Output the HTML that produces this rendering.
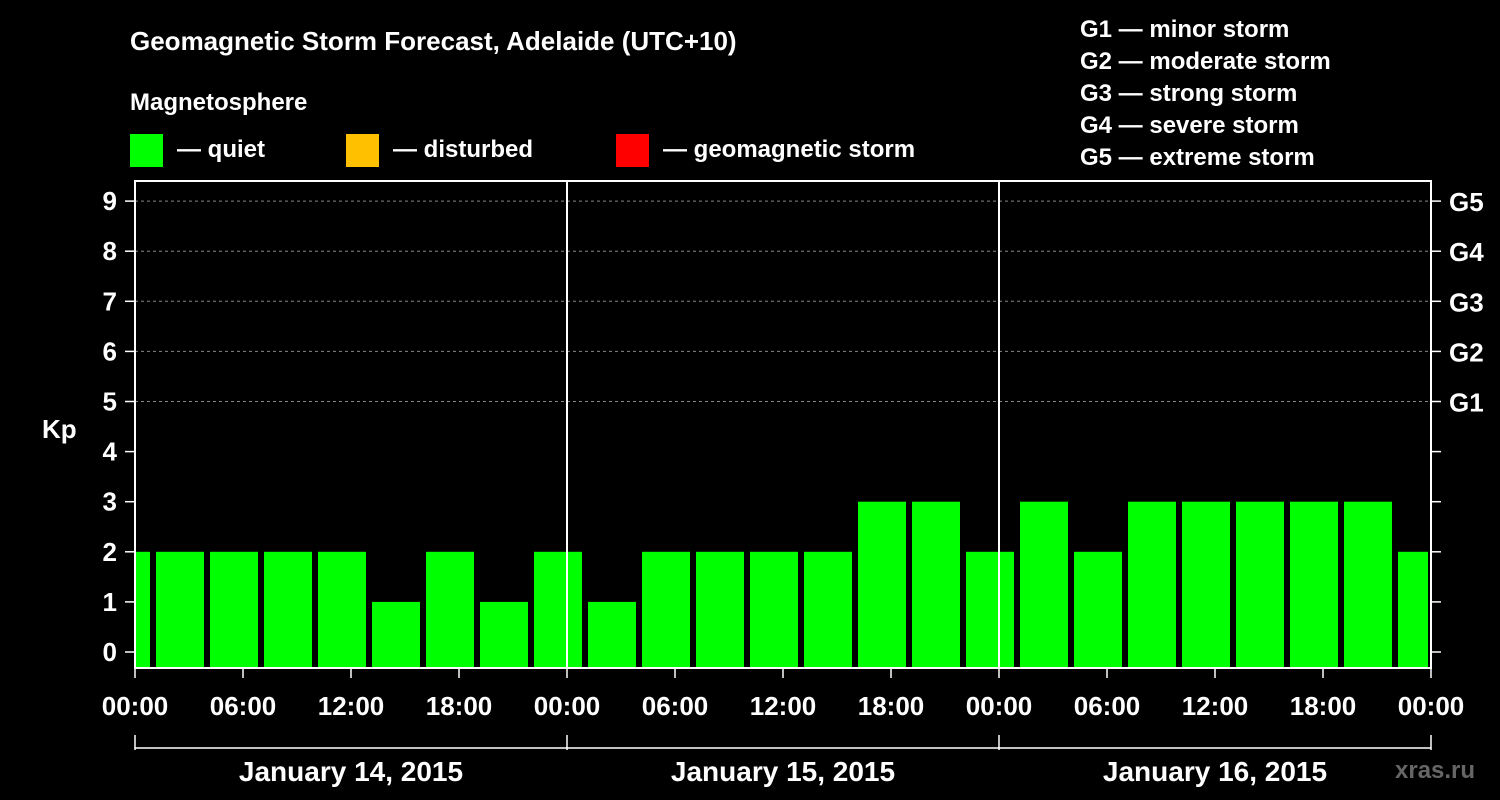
<!DOCTYPE html>
<html><head><meta charset="utf-8"><style>
body{margin:0;background:#000;width:1500px;height:800px;overflow:hidden}
svg{display:block;font-family:"Liberation Sans",Arial,sans-serif;font-weight:bold}
</style></head><body>
<svg id="c" width="1500" height="800">
<rect width="1500" height="800" fill="#000"/>
<text x="130" y="50" fill="#fff" font-size="26">Geomagnetic Storm Forecast, Adelaide (UTC+10)</text>
<text x="130" y="110" fill="#fff" font-size="24">Magnetosphere</text>
<g><rect x="130" y="134" width="33" height="33" fill="#00ff00"/><text x="177" y="157" fill="#fff" font-size="24">— quiet</text></g>
<g><rect x="346" y="134" width="33" height="33" fill="#ffc000"/><text x="393" y="157" fill="#fff" font-size="24">— disturbed</text></g>
<g><rect x="616" y="134" width="33" height="33" fill="#ff0000"/><text x="663" y="157" fill="#fff" font-size="24">— geomagnetic storm</text></g>
<g fill="#fff" font-size="24">
<text x="1080" y="37">G1 — minor storm</text><text x="1080" y="69">G2 — moderate storm</text><text x="1080" y="101">G3 — strong storm</text><text x="1080" y="133">G4 — severe storm</text><text x="1080" y="165">G5 — extreme storm</text></g>
<text x="42" y="438" fill="#fff" font-size="26">Kp</text>
<text x="1395" y="778" fill="#666" font-size="24">xras.ru</text>
<g id="plot"></g>
</svg>
<script>
const kpValues=[2,2,2,2,2,1,2,1,2,1,2,2,2,2,3,3,2,3,2,3,3,3,3,3,2];
const blockStartHours=[-2,1,4,7,10,13,16,19,22,25,28,31,34,37,40,43,46,49,52,55,58,61,64,67,70];
const yTicks=[0,1,2,3,4,5,6,7,8,9];
const gLabels=["G1","G2","G3","G4","G5"];
const gLevels=[5,6,7,8,9];
const xTickHours=[0,6,12,18,24,30,36,42,48,54,60,66,72];
const xTickLabels=["00:00","06:00","12:00","18:00","00:00","06:00","12:00","18:00","00:00","06:00","12:00","18:00","00:00"];
const dayLabels=["January 14, 2015","January 15, 2015","January 16, 2015"];
const L=135,R=1431,T=181,B=668;
const x=h=>L+h*18;
const y=v=>652-v*50.1;
const ns="http://www.w3.org/2000/svg";
const g=document.getElementById('plot');
function mk(t,a,txt){const e=document.createElementNS(ns,t);for(const k in a)e.setAttribute(k,a[k]);if(txt!==undefined)e.textContent=txt;g.appendChild(e);return e;}
gLevels.forEach(v=>{const e=mk('line',{x1:L,x2:R,y1:y(v),y2:y(v),stroke:'#888','stroke-dasharray':'3,3','stroke-width':1});

});
kpValues.forEach((v,i)=>{const s=Math.max(x(blockStartHours[i])+3,L+1),en=Math.min(x(blockStartHours[i]+3)-3,R-3);
const e=mk('rect',{x:s,y:y(v),width:en-s,height:B-y(v),fill:'#00ff00'});

});
mk('rect',{x:L,y:T,width:R-L,height:B-T,fill:'none',stroke:'#fff','stroke-width':2});
[24,48].forEach(h=>{mk('line',{x1:x(h),x2:x(h),y1:T,y2:B,stroke:'#fff','stroke-width':2});});
yTicks.forEach(v=>{mk('line',{x1:L-10,x2:L,y1:y(v),y2:y(v),stroke:'#fff','stroke-width':1.5});
mk('line',{x1:R,x2:R+10,y1:y(v),y2:y(v),stroke:'#fff','stroke-width':1.5});
const t=mk('text',{x:L-18,y:y(v)+9,fill:'#fff','font-size':26,'text-anchor':'end'},String(v));

});
gLevels.forEach((v,i)=>{const t=mk('text',{x:1449,y:y(v)+10,fill:'#fff','font-size':26},gLabels[i]);

});
xTickHours.forEach((h,i)=>{mk('line',{x1:x(h),x2:x(h),y1:B,y2:B+10,stroke:'#fff','stroke-width':1.5});
const t=mk('text',{x:x(h),y:715,fill:'#fff','font-size':26,'text-anchor':'middle'},xTickLabels[i]);

});
mk('line',{x1:L,x2:R,y1:748,y2:748,stroke:'#fff','stroke-width':1.5});
[0,24,48,72].forEach(h=>mk('line',{x1:x(h),x2:x(h),y1:735,y2:750,stroke:'#fff','stroke-width':1.5}));
dayLabels.forEach((d,i)=>{const t=mk('text',{x:x(i*24+12),y:781,fill:'#fff','font-size':28,'text-anchor':'middle'},d);

});
</script>
</body></html>
